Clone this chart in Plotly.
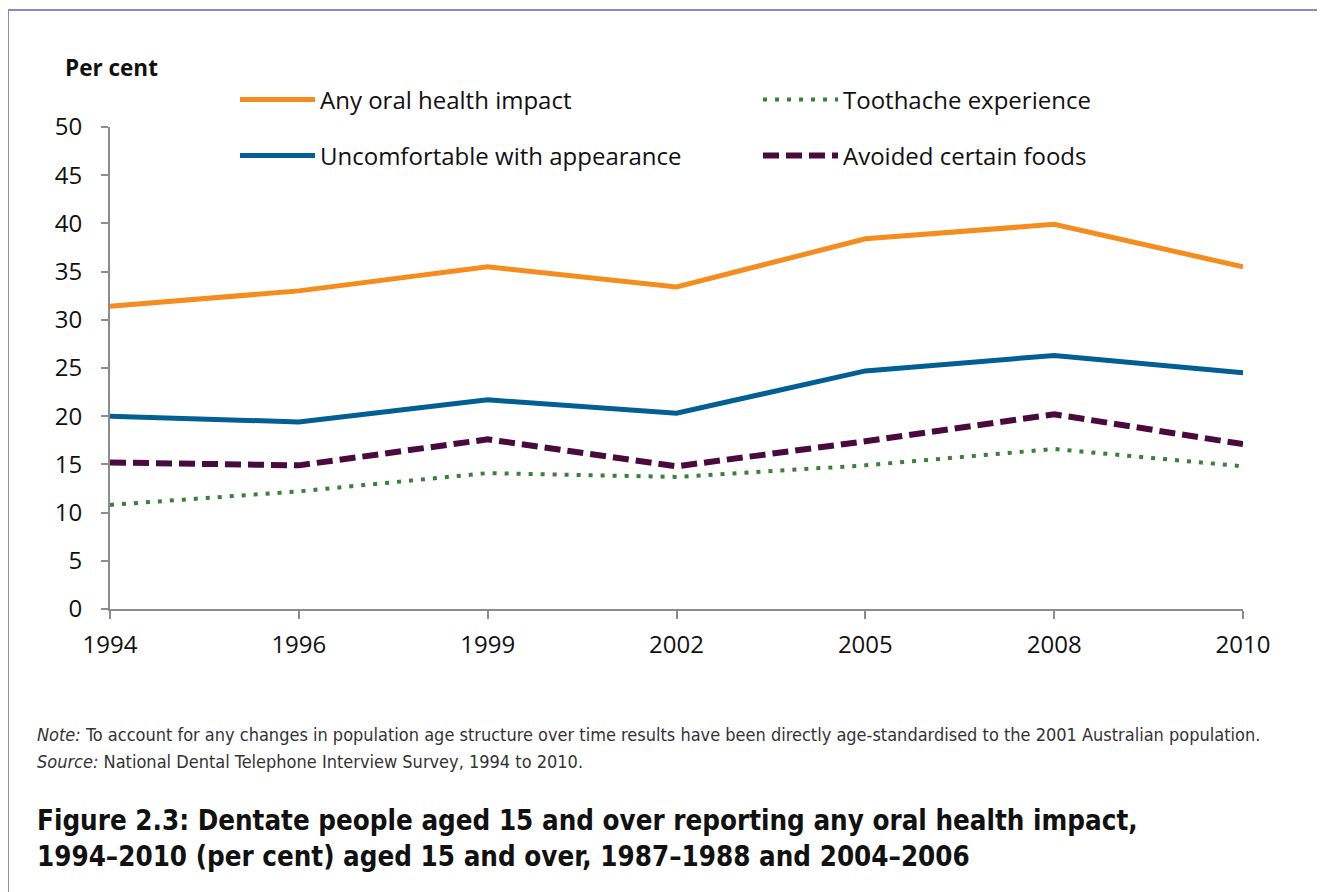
import plotly.graph_objects as go

years = ["1994", "1996", "1999", "2002", "2005", "2008", "2010"]
any_impact = [31.4, 33.0, 35.5, 33.4, 38.4, 39.9, 35.5]
uncomfortable = [20.0, 19.4, 21.7, 20.3, 24.7, 26.3, 24.5]
avoided_foods = [15.2, 14.9, 17.6, 14.8, 17.4, 20.2, 17.1]
toothache = [10.8, 12.2, 14.1, 13.7, 14.9, 16.6, 14.8]

OFF = 8  # page body margin
W, H = 1325 - OFF, 892 - OFF
L, R, T, B = 110 - OFF, 1243 - OFF, 127 - OFF, 609 - OFF
PW, PH = R - L, B - T


def px(x):
    return (x - OFF - L) / PW


def py(y):
    return (B - (y - OFF)) / PH


FONT = "Open Sans, Segoe UI, Noto Sans, sans-serif"
NARROW = "Liberation Sans Narrow, DejaVu Sans Condensed, Open Sans, sans-serif"

fig = go.Figure()
fig.add_trace(go.Scatter(x=years, y=any_impact, mode="lines", name="Any oral health impact",
                         line=dict(color="#F58D1E", width=5), legend="legend"))
fig.add_trace(go.Scatter(x=years, y=toothache, mode="lines", name="Toothache experience",
                         line=dict(color="#3B7F3B", width=4, dash="4px,8px"), legend="legend"))
fig.add_trace(go.Scatter(x=years, y=uncomfortable, mode="lines", name="Uncomfortable with appearance",
                         line=dict(color="#015F94", width=5), legend="legend2"))
fig.add_trace(go.Scatter(x=years, y=avoided_foods, mode="lines", name="Avoided certain foods",
                         line=dict(color="#4A0A3E", width=6, dash="16px,7px"), legend="legend2"))

axis_col = "#8C8C8C"
leg_common = dict(orientation="h", xanchor="left", yanchor="middle", itemwidth=75,
                  entrywidth=433, entrywidthmode="pixels", font=dict(size=24),
                  bgcolor="rgba(0,0,0,0)")
fig.update_layout(
    width=W, height=H,
    margin=dict(l=L, r=W - R, t=T, b=H - B, autoexpand=False),
    paper_bgcolor="white", plot_bgcolor="white",
    font=dict(family=FONT, size=24, color="#111111"),
    xaxis=dict(type="category", range=[0, 6], showgrid=False, zeroline=False,
               showline=True, linecolor=axis_col, linewidth=2,
               ticks="outside", ticklen=8, tickcolor=axis_col, tickwidth=2,
               ticklabelstandoff=5, tickfont=dict(size=24)),
    yaxis=dict(range=[0, 50], dtick=5, showgrid=False, zeroline=False,
               showline=True, linecolor=axis_col, linewidth=2,
               ticks="outside", ticklen=7, tickcolor=axis_col, tickwidth=2,
               ticklabelstandoff=14, tickfont=dict(size=24)),
    legend=dict(x=px(235), y=py(100), **leg_common),
    legend2=dict(x=px(235), y=py(156), **leg_common),
    shapes=[dict(type="rect", xref="paper", yref="paper",
                 x0=px(8), x1=px(1318), y0=py(905), y1=py(10),
                 line=dict(color="#8A87C8", width=2), fillcolor="rgba(0,0,0,0)", layer="below")],
    annotations=[
        dict(text="<b>Per cent</b>", xref="paper", yref="paper", x=px(63), y=py(68),
             xanchor="left", yanchor="middle", showarrow=False, font=dict(size=22.5)),
        dict(text="<i>Note:</i> To account for any changes in population age structure over time results have been directly age-standardised to the 2001 Australian population.",
             xref="paper", yref="paper", x=px(35), y=py(734), xanchor="left", yanchor="middle",
             showarrow=False, font=dict(family=NARROW, size=18, color="#333333")),
        dict(text="<i>Source:</i> National Dental Telephone Interview Survey, 1994 to 2010.",
             xref="paper", yref="paper", x=px(35), y=py(761), xanchor="left", yanchor="middle",
             showarrow=False, font=dict(family=NARROW, size=18, color="#333333")),
        dict(text="<b>Figure 2.3: Dentate people aged 15 and over reporting any oral health impact,<br>1994–2010 (per cent) aged 15 and over, 1987–1988 and 2004–2006</b>",
             xref="paper", yref="paper", x=px(35), y=py(802), xanchor="left", yanchor="top",
             align="left", showarrow=False, font=dict(family=NARROW, size=27.5, color="#111111")),
    ],
)

fig.write_html("out.html")
